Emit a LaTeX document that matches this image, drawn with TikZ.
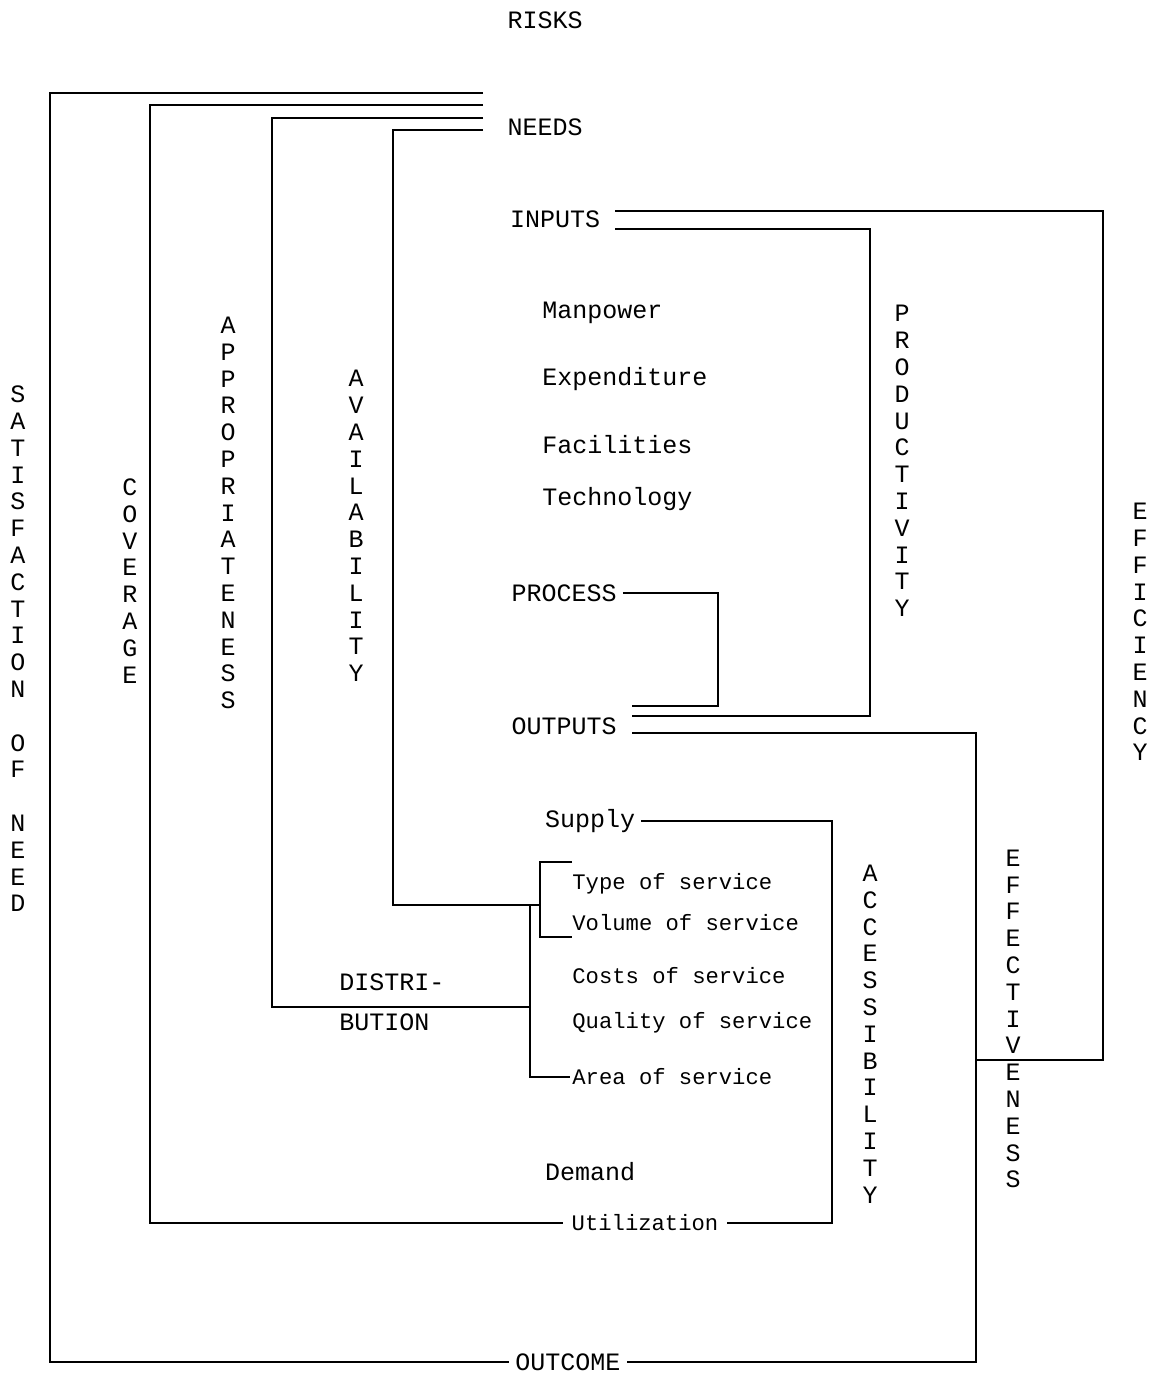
\documentclass[tikz,border=0pt]{standalone}
\usepackage{fontspec}
\setmonofont{Liberation Mono}
\usetikzlibrary{positioning,calc}
\newcommand{\capfont}{\ttfamily\fontsize{12.5}{13.4}\selectfont}
\newcommand{\listfont}{\ttfamily\fontsize{11.1}{13.4}\selectfont}

\begin{document}
\begin{tikzpicture}[
  x=0.5pt, y=-0.5pt,
  line/.style={line width=1.2pt, line join=miter},
  lab/.style={font=\capfont, inner sep=3pt},
  item/.style={font=\listfont, inner sep=1pt, anchor=west},
  vword/.style={font=\capfont, align=center, inner sep=0pt},
]
\useasboundingbox (0,0) rectangle (1163,1375);

%% ---- top ------------------------------------------------------------------
\node[lab] (risks) at (545,20) {RISKS};
\node[lab] (needs) at (545,127) {NEEDS};

%% ---- inputs ---------------------------------------------------------------
\node[lab] (inputs) at (555,219) {INPUTS};
\node[lab, anchor=west] (manpower) at (536,313) {Manpower};
\node[lab, anchor=west] (expend) at (536,379) {Expenditure};
\node[lab, anchor=west] (facil) at (536,445) {Facilities};
\node[lab, anchor=west] (techno) at (536,499) {Technology};

%% ---- process and outputs --------------------------------------------------
\node[lab] (process) at (564,593) {PROCESS};
\node[lab] (outputs) at (564,726) {OUTPUTS};

%% ---- supply side ----------------------------------------------------------
\node[lab] (supply) at (590,821) {Supply};
\node[item] (type) at (570,884) {Type of service};
\node[item] (volume) at (570,923) {Volume of service};
\node[item] (costs) at (570,976) {Costs of service};
\node[item] (quality) at (570,1023) {Quality of service};
\node[item] (area) at (570,1077) {Area of service};
\node[lab, align=left, anchor=west] (distr) at (333,1002) {DISTRI-\\[6.6pt]BUTION};
\node[lab] (demand) at (590,1172) {Demand};
\node[item, anchor=center, inner sep=4pt] (util) at (645,1223) {Utilization};
\node[lab] (outcome) at (568,1362) {OUTCOME};

%% ---- the vertical words ---------------------------------------------------
\node[vword] (satis) at (18,649)
  {S\\A\\T\\I\\S\\F\\A\\C\\T\\I\\O\\N\\[13.4pt]O\\F\\[13.4pt]N\\E\\E\\D};
\node[vword] (cover) at (130,581) {C\\O\\V\\E\\R\\A\\G\\E};
\node[vword] (approp) at (228,513) {A\\P\\P\\R\\O\\P\\R\\I\\A\\T\\E\\N\\E\\S\\S};
\node[vword] (avail) at (356,526) {A\\V\\A\\I\\L\\A\\B\\I\\L\\I\\T\\Y};
\node[vword] (prod) at (902,461) {P\\R\\O\\D\\U\\C\\T\\I\\V\\I\\T\\Y};
\node[vword] (effic) at (1140,632) {E\\F\\F\\I\\C\\I\\E\\N\\C\\Y};
\node[vword] (access) at (870,1034) {A\\C\\C\\E\\S\\S\\I\\B\\I\\L\\I\\T\\Y};
\node[vword] (effect) at (1013,1019) {E\\F\\F\\E\\C\\T\\I\\V\\E\\N\\E\\S\\S};

%% ---- line ends ------------------------------------------------------------
\coordinate (needsA) at (483,93);
\coordinate (needsB) at (483,105);
\coordinate (needsC) at (483,118);
\coordinate (needsD) at (483,130);
\coordinate (inTop) at (615,211);
\coordinate (inBot) at (615,229);
\coordinate (outHi) at (632,706);
\coordinate (outMid) at (632,716);
\coordinate (outLow) at (632,733);
\coordinate (brkTop) at (572,862);
\coordinate (brkBot) at (572,937);
\coordinate (brkJoin) at (540,905);
\coordinate (distJoin) at (530,1007);
\coordinate (effJoin) at (976,1060);

%% ---- loops from needs -----------------------------------------------------
\draw[line] (needsA) -- (50,93) |- (outcome.west);
\draw[line] (needsB) -- (150,105) |- (util.west);
\draw[line] (needsC) -- (272,118) |- (distJoin);
\draw[line] (needsD) -- (393,130) |- (brkJoin);

%% ---- service bracket ------------------------------------------------------
\draw[line] (brkTop) -| (brkBot -| brkJoin) -- (brkBot);
\draw[line] (brkJoin -| distJoin) |- (area.west);

%% ---- productivity, process, efficiency ------------------------------------
\draw[line] (inBot) -| (870,716) -- (outMid);
\draw[line] (process.east) -| (718,706) -- (outHi);
\draw[line] (inTop) -| (1103,1060) -- (effJoin);

%% ---- effectiveness and accessibility --------------------------------------
\draw[line] (outLow) -- (976,733) |- (outcome.east);
\draw[line] (supply.east) -- (832,821) |- (util.east);

\end{tikzpicture}
\end{document}
